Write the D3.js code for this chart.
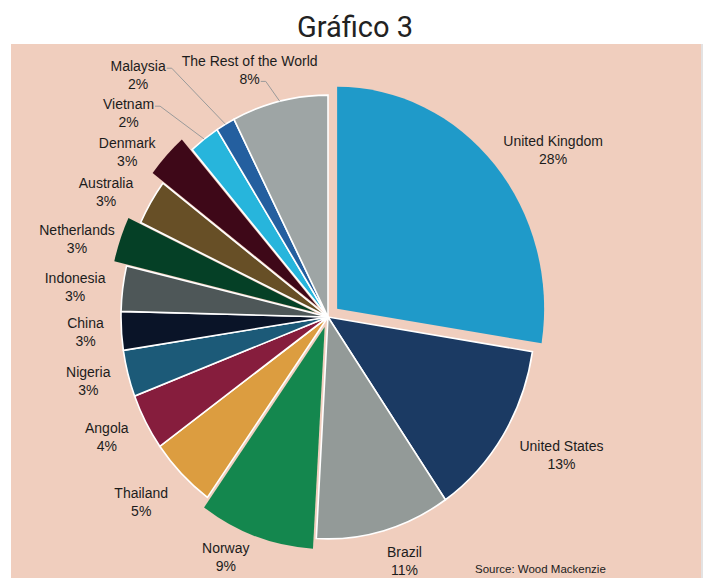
<!DOCTYPE html>
<html lang="es">
<head>
<meta charset="UTF-8">
<title>Gráfico 3</title>
<script src="https://d3js.org/d3.v7.min.js"></script>
<style>
  body { margin: 0; background: #fff; }
  svg { display: block; }
  .lbl { font-family: "Liberation Sans", Arial, sans-serif; font-size: 14px; fill: #1c1c1c; }
  .src { font-family: "Liberation Sans", Arial, sans-serif; font-size: 11.5px; fill: #1c1c1c; }
  .title { font-family: Roboto, "Noto Sans", sans-serif; font-size: 29px; fill: #222; }
</style>
</head>
<body>
<svg id="chart" width="707" height="578"></svg>
<script>
// data, clockwise from 12 o'clock (shares, labels show them rounded)
const countries = ["United Kingdom", "United States", "Brazil", "Norway", "Thailand", "Angola",
  "Nigeria", "China", "Indonesia", "Netherlands", "Australia", "Denmark", "Vietnam", "Malaysia",
  "The Rest of the World"];
const shares = [27.5, 12.9, 10.5, 9.0, 5.2, 4.1, 3.4, 2.8, 3.3, 3.3, 3.3, 3.3, 2.4, 1.5, 7.5];
const pulledOut = ["United Kingdom", "Norway", "Netherlands", "Denmark"];
const leaderLabels = ["Vietnam", "Malaysia", "The Rest of the World"];
const titleText = "Gráfico 3";
const sourceNote = "Source: Wood Mackenzie";

const palette = ["#1f9ac9", "#1b3a63", "#939a98", "#14874e", "#dc9d40", "#861d3d",
  "#1c5a78", "#0a1428", "#4e5758", "#054026", "#674f26", "#3e0818", "#27b5dc", "#245f9f", "#9ea5a5"];

const svg = d3.select("#chart");
const cx = 328, cy = 317, R = 207, sy = 1.072;   // the pie is slightly taller than wide

// panel
svg.append("rect").attr("x", 11).attr("y", 44).attr("width", 690).attr("height", 540)
  .attr("fill", "#f0cebe");
svg.append("line").attr("x1", 702).attr("x2", 702).attr("y1", 44).attr("y2", 578)
  .attr("stroke", "#e4e2e2").attr("stroke-width", 2);

svg.append("text").attr("class", "title").attr("x", 355).attr("y", 37)
  .attr("text-anchor", "middle").text(titleText);

const color = d3.scaleOrdinal().domain(countries).range(palette);
const pie = d3.pie().sort(null).value(d => d.v).startAngle(0).endAngle(2 * Math.PI);
const arcs = pie(countries.map((c, i) => ({ c, v: shares[i] })));
const arc = d3.arc().innerRadius(0).outerRadius(R);
const rim = d3.arc().innerRadius(R).outerRadius(R);
const mid = d => (d.startAngle + d.endAngle) / 2;
const pullBy = { "United Kingdom": 12, "Norway": 10, "Netherlands": 13, "Denmark": 14 };

const g = svg.append("g").attr("transform", `translate(${cx},${cy}) scale(1,${sy})`);
g.selectAll("path").data(arcs).enter().append("path")
  .attr("d", arc)
  .attr("fill", d => color(d.data.c))
  .attr("transform", d => {
    const k = pulledOut.includes(d.data.c) ? pullBy[d.data.c] : 0;
    return `translate(${k * Math.sin(mid(d))},${-k * Math.cos(mid(d))})`;
  })
  .attr("stroke", d => pulledOut.includes(d.data.c) ? "none" : "#fff")
  .attr("stroke-width", 1.6)
  .attr("vector-effect", "non-scaling-stroke");

// labels sit on a ring around the pie, nudged where the original moved them
const ring = d3.arc().innerRadius(250).outerRadius(250);
const shift = {
  "United Kingdom": [35, 7], "United States": [22, -5], "Brazil": [9, -14], "Norway": [-19, -13],
  "Thailand": [-10, -5], "Angola": [-1, -7], "Nigeria": [2, -4], "China": [7, -2], "Indonesia": [-5, 4],
  "Netherlands": [-15, 10], "Australia": [-8, 14], "Denmark": [-18, 18], "Vietnam": [-50, 11],
  "Malaysia": [-66, -9], "The Rest of the World": [-20, 14]
};

const lbl = svg.append("g");
arcs.forEach(d => {
  const [px, py] = ring.centroid(d);
  const s = shift[d.data.c];
  const x = cx + px + s[0], y = cy + py * sy + s[1];
  const t = lbl.append("g");
  const name = t.append("text").attr("class", "lbl").attr("x", x).attr("y", y - 4)
    .attr("text-anchor", "middle").text(d.data.c);
  const pct = t.append("text").attr("class", "lbl").attr("x", x).attr("y", y + 14)
    .attr("text-anchor", "middle").text(Math.round(d.data.v) + "%");

  if (leaderLabels.includes(d.data.c)) {
    const useName = d.data.c !== "The Rest of the World";
    const node = useName ? name.node() : pct.node();
    const endX = x + node.getComputedTextLength() / 2 + 1;
    const ly = (useName ? y - 4 : y + 14) - 3;
    const [ax, ay] = rim.centroid(d);
    lbl.append("polyline")
      .attr("points", `${endX},${ly} ${endX + 5},${ly} ${cx + ax},${cy + ay * sy}`)
      .attr("fill", "none").attr("stroke", "#9a9a9a").attr("stroke-width", 1);
  }
});

svg.append("text").attr("class", "src").attr("x", 475).attr("y", 573).text(sourceNote);
</script>
</body>
</html>
